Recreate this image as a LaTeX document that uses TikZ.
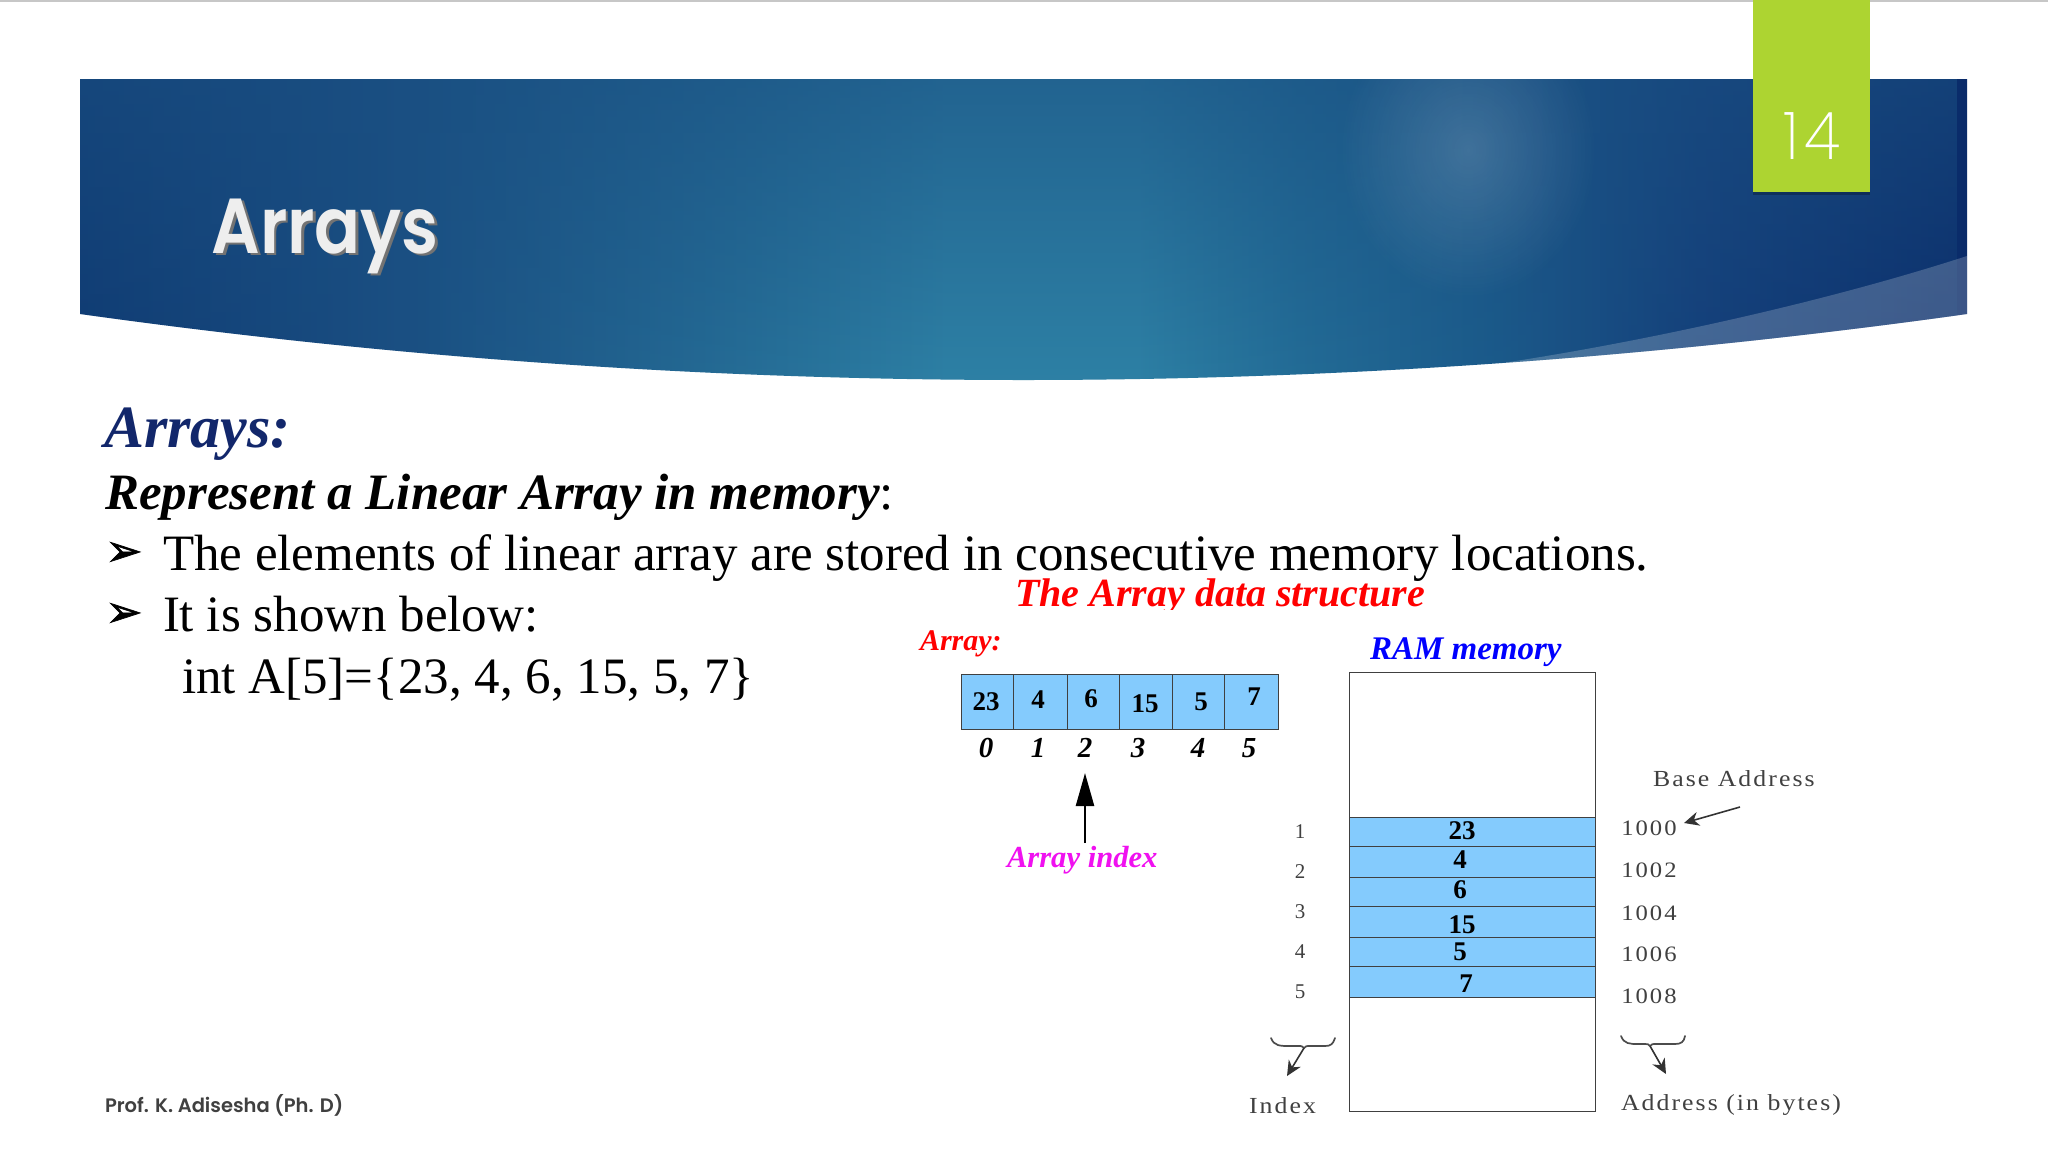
\documentclass[tikz,border=0pt]{standalone}
\usepackage{fontspec}
\usetikzlibrary{fadings,arrows.meta}
\setmainfont{Liberation Serif}
\newfontfamily\gothic[FakeStretch=0.88]{Poppins}[BoldFont={Poppins SemiBold}]
\newfontfamily\footf{Poppins SemiBold}
\newfontfamily\thinf[FakeStretch=0.92,LetterSpace=8]{Poppins ExtraLight}
\newfontfamily\dejav[FakeBold=1.5]{DejaVu Sans Bold}
\newfontfamily\spaced[LetterSpace=9,FakeStretch=1.12]{Liberation Serif}
\definecolor{navytxt}{HTML}{12276B}
\definecolor{cellblue}{HTML}{84CBFD}
\definecolor{greenbox}{HTML}{ADD431}
\definecolor{titlew}{HTML}{EEEEEE}
\definecolor{grayt}{HTML}{404040}
\definecolor{mag}{HTML}{F010F0}
\definecolor{bandA}{HTML}{0F3A72}
\definecolor{bandB}{HTML}{1A4F82}
\definecolor{bandC}{HTML}{246A94}
\definecolor{bandD}{HTML}{2E82A6}
\definecolor{bandE}{HTML}{236D97}
\definecolor{bandF}{HTML}{1B5A8A}
\definecolor{bandG}{HTML}{143F7A}
\definecolor{bandH}{HTML}{0A2B69}
\pgfdeclarehorizontalshading{bandshade}{100bp}{color(0bp)=(bandA); color(25bp)=(bandA); color(33.5bp)=(bandB); color(41.4bp)=(bandC); color(48bp)=(bandD); color(53bp)=(bandD); color(57.3bp)=(bandE); color(62.6bp)=(bandF); color(67.9bp)=(bandG); color(75bp)=(bandH); color(100bp)=(bandH)}
\tikzfading[name=spotfade,inner color=transparent!0,outer color=transparent!100]
\newcommand{\fsz}[1]{\fontsize{#1}{#1}\selectfont}
\tikzset{
  x=1pt,y=-1pt,
  txt/.style={inner sep=0pt,outer sep=0pt,anchor=base west},
  body/.style={txt,font=\fsz{51}},
  cellbox/.style={draw=black!75,line width=1.4pt,fill=cellblue,inner sep=0pt,anchor=north west},
  celltxt/.style={inner sep=0pt,font=\bfseries\fsz{27}},
  idxtxt/.style={inner sep=0pt,font=\bfseries\itshape\fsz{29}},
  memrow/.style={cellbox,minimum width=246pt},
  lefttxt/.style={inner sep=0pt,text=grayt,font=\fsz{21}},
  addr/.style={inner sep=0pt,text=grayt,font=\spaced\fsz{22}},
  lab/.style={txt,text=grayt,font=\spaced\fsz{23}},
  bul/.style={inner sep=0pt,font=\dejav\fsz{44}},
  brace/.style={draw=black!70,line width=1.7pt,line cap=round},
  tiny arrow/.style={draw=black!80,line width=1.6pt,-{Stealth[length=15pt,width=14pt]}},
}
\begin{document}
\begin{tikzpicture}
\useasboundingbox (0,0) rectangle (2048,1152);
\fill[white] (0,0) rectangle (2048,1152);
\fill[black!22] (0,0) rectangle (2048,1.5);
% banner
\begin{scope}
  \clip (80,79) -- (1967,79) -- (1967,314) .. controls (1338,402) and (709,402) .. (80,314) -- cycle;
  \shade[shading=bandshade] (80,79) rectangle (1967,400);
  \fill[color=bandB,fill opacity=.6,path fading=south] (80,79) rectangle (1967,400);
  \fill[color=white,fill opacity=.16,path fading=spotfade] (1468,150) ellipse [x radius=130,y radius=150];
  \fill[color=white,fill opacity=.2] (1468,368) .. controls (1600,350) and (1800,310) .. (1967,256) -- (1967,400) -- (1468,400) -- cycle;
\end{scope}
\fill[black,opacity=.25] (1753,192) rectangle (1870,195);
\fill[greenbox] (1753,0) rectangle (1870,192);
\node[inner sep=0pt,text=white,font=\thinf\fsz{66}] (pageno) at (1812,136) {14};
\node[txt,text=black!55,font=\footf\fsz{78}] (titleshadow) at (214,255.5) {\addfontfeature{FakeStretch=0.87}Arrays};
\node[txt,text=titlew,font=\footf\fsz{78}] (title) at (211.5,253) {\addfontfeature{FakeStretch=0.87}Arrays};
% left text
\node[txt,text=navytxt,font=\bfseries\itshape\fsz{60}] (h1) at (104,447) {Arrays:};
\node[body] (h2) at (105,509) {{\bfseries\itshape Represent a Linear Array in memory}:};
\node[bul] (b1) at (124,554) {➢};
\node[body] (l1) at (163,570.5) {The elements of linear array are stored in consecutive memory locations.};
\node[bul] (b2) at (124,615) {➢};
\node[body] (l2) at (163,631.5) {It is shown below:};
\node[body] (l3) at (182,693) {int A[5]=\{23, 4, 6, 15, 5, 7\}};
\node[txt,text=grayt,font=\footf\fsz{19.5}] (foot) at (105,1112) {Prof. K. Adisesha (Ph. D)};
% array figure
\begin{scope}
  \clip (1000,560) rectangle (1440,609);
  \node[txt,text=red,font=\bfseries\itshape\fsz{40}] (figt) at (1015,606) {The Array data structure};
\end{scope}
\node[txt,text=red,font=\bfseries\itshape\fsz{30}] (arrl) at (920,650) {Array:};
\node[txt,text=blue,font=\bfseries\itshape\fsz{33}] (raml) at (1370,659) {RAM memory};
\node[cellbox,minimum width=52pt,minimum height=55pt] (a0) at (961,674) {};
\node[cellbox,minimum width=54pt,minimum height=55pt] (a1) at (1013,674) {};
\node[cellbox,minimum width=52pt,minimum height=55pt] (a2) at (1067,674) {};
\node[cellbox,minimum width=53pt,minimum height=55pt] (a3) at (1119,674) {};
\node[cellbox,minimum width=52pt,minimum height=55pt] (a4) at (1172,674) {};
\node[cellbox,minimum width=54pt,minimum height=55pt] (a5) at (1224,674) {};
\node[celltxt] (av0) at (986,702) {23};
\node[celltxt] (av1) at (1038,700) {4};
\node[celltxt] (av2) at (1091,699) {6};
\node[celltxt] (av3) at (1145,704) {15};
\node[celltxt] (av4) at (1201,702) {5};
\node[celltxt] (av5) at (1254,697) {7};
\node[idxtxt] (i0) at (986,748) {0};
\node[idxtxt] (i1) at (1038,748) {1};
\node[idxtxt] (i2) at (1085,748) {2};
\node[idxtxt] (i3) at (1138,748) {3};
\node[idxtxt] (i4) at (1198,748) {4};
\node[idxtxt] (i5) at (1249,748) {5};
\coordinate (arrowtail) at (1085,843);
\coordinate (arrowtip) at (1085,773);
\draw[line width=2.4pt,-{Triangle[length=33pt,width=18pt]}] (arrowtail) -- (arrowtip);
\node[txt,text=mag,font=\bfseries\itshape\fsz{30.6}] (idxl) at (1007,867) {Array index};
% memory
\node[draw=black!75,line width=1.4pt,inner sep=0pt,minimum width=246pt,minimum height=439pt,anchor=north west] (ram) at (1349,672) {};
\node[memrow,minimum height=29pt] (m0) at (1349,817) {};
\node[memrow,minimum height=31pt] (m1) at (1349,846) {};
\node[memrow,minimum height=29pt] (m2) at (1349,877) {};
\node[memrow,minimum height=31pt] (m3) at (1349,906) {};
\node[memrow,minimum height=29pt] (m4) at (1349,937) {};
\node[memrow,minimum height=31pt] (m5) at (1349,966) {};
\node[celltxt] (mv0) at (1462,831) {23};
\node[celltxt] (mv1) at (1460,860) {4};
\node[celltxt] (mv2) at (1460,890) {6};
\node[celltxt] (mv3) at (1462,925) {15};
\node[celltxt] (mv4) at (1460,952) {5};
\node[celltxt] (mv5) at (1466,984) {7};
\node[lefttxt] (n1) at (1300,832) {1};
\node[lefttxt] (n2) at (1300,872) {2};
\node[lefttxt] (n3) at (1300,912) {3};
\node[lefttxt] (n4) at (1300,952) {4};
\node[lefttxt] (n5) at (1300,992) {5};
\node[addr] (ad0) at (1649,828) {1000};
\node[addr] (ad1) at (1649,870) {1002};
\node[addr] (ad2) at (1649,913) {1004};
\node[addr] (ad3) at (1649,954) {1006};
\node[addr] (ad4) at (1649,996) {1008};
\node[lab] (base) at (1653,786) {Base Address};
\node[lab] (indexl) at (1249,1113) {Index};
\node[lab] (addrl) at (1621,1110) {Address (in bytes)};
\coordinate (bt) at (1740,807);
\coordinate (bh) at (1684,823);
\draw[tiny arrow] (bt) -- (bh);
% braces
\coordinate (lbA) at (1271,1038);
\coordinate (lbB) at (1335,1038);
\coordinate (lbT) at (1304,1048);
\coordinate (lbH) at (1287,1076);
\draw[brace] (lbA) .. controls (1274,1046) and (1280,1046) .. (1290,1046) -- (1298,1046) .. controls (1302,1046) .. (lbT) .. controls (1306,1046) .. (1310,1046) -- (1325,1046) .. controls (1331,1046) and (1333,1044) .. (lbB);
\draw[tiny arrow] (lbT) -- (lbH);
\coordinate (rbA) at (1621,1036);
\coordinate (rbB) at (1685,1036);
\coordinate (rbT) at (1650,1046);
\coordinate (rbH) at (1666,1074);
\draw[brace] (rbA) .. controls (1624,1044) and (1630,1044) .. (1638,1044) -- (1645,1044) .. controls (1648,1044) .. (rbT) .. controls (1652,1044) .. (1656,1044) -- (1675,1044) .. controls (1681,1044) and (1684,1042) .. (rbB);
\draw[tiny arrow] (rbT) -- (rbH);
\end{tikzpicture}
\end{document}
